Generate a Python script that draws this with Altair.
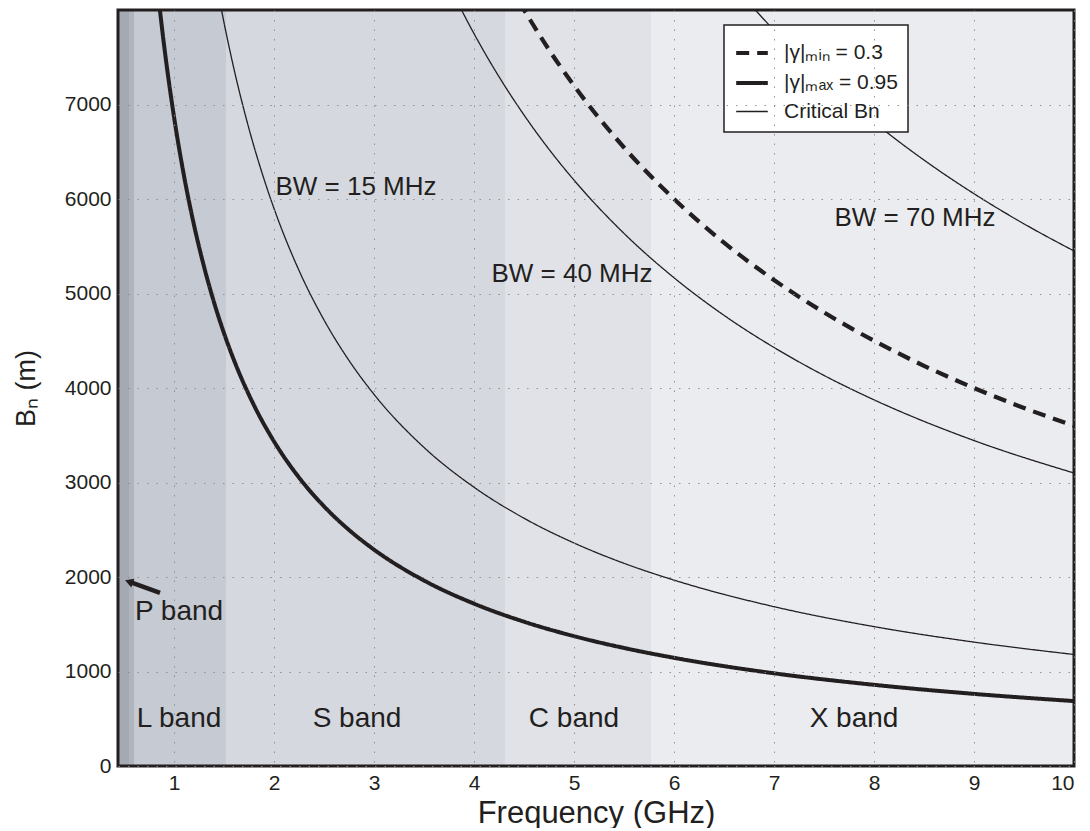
import altair as alt
import pandas as pd

# ---- data ----
band_names = ["P", "P2", "L", "S", "C", "X"]
band_start = [0.44, 0.55, 0.6, 1.52, 4.31, 5.77]
band_end = [0.55, 0.6, 1.52, 4.31, 5.77, 10.0]
band_colors = ["#a4a9b2", "#b0b5bd", "#c6cad2", "#d5d8df", "#e0e2e7", "#ebecf0"]

lab_min = "|γ|ₘᵢₙ = 0.3"
lab_max = "|γ|ₘₐₓ = 0.95"
lab_crit = "Critical Bn"

f_max = [0.84, 0.9, 1.0, 1.1, 1.2, 1.3, 1.4, 1.5, 1.6, 1.8, 2.0, 2.25, 2.5, 2.75, 3.0, 3.5, 4.0, 4.5, 5, 5.5, 6, 7, 8, 9, 10]
b_max = [8179, 7633, 6870, 6245, 5725, 5285, 4907, 4580, 4294, 3817, 3435, 3053, 2748, 2498, 2290, 1963, 1718, 1527, 1374, 1249, 1145, 981, 859, 763, 687]

f_bw15 = [1.45, 1.5, 1.6, 1.75, 1.9, 2.0, 2.25, 2.5, 2.75, 3, 3.5, 4, 4.5, 5, 5.5, 6, 7, 8, 9, 10]
b_bw15 = [8138, 7867, 7375, 6743, 6211, 5900, 5244, 4720, 4291, 3933, 3371, 2950, 2622, 2360, 2145, 1967, 1686, 1475, 1311, 1180]

f_bw40 = [3.85, 4.0, 4.25, 4.5, 4.75, 5, 5.5, 6, 6.5, 7, 7.5, 8, 9, 10]
b_bw40 = [8052, 7750, 7294, 6889, 6526, 6200, 5636, 5167, 4769, 4429, 4133, 3875, 3444, 3100]

f_min = [4.45, 4.75, 5, 5.5, 6, 6.5, 7, 7.5, 8, 8.5, 9, 9.5, 10]
b_min = [8090, 7579, 7200, 6545, 6000, 5538, 5143, 4800, 4500, 4235, 4000, 3789, 3600]

f_bw70 = [6.8, 7, 7.5, 8, 8.5, 9, 9.5, 10]
b_bw70 = [8015, 7786, 7267, 6813, 6412, 6056, 5737, 5450]

bw_text = ["BW = 15 MHz", "BW = 40 MHz", "BW = 70 MHz"]
bw_x = [2.82, 4.98, 8.41]
bw_y = [6126, 5210, 5800]

band_text = ["P band", "L band", "S band", "C band", "X band"]
band_tx = [1.05, 1.05, 2.83, 5.0, 7.8]
band_ty = [1630, 495, 495, 495, 495]

arrow_x = [0.86, 0.55]
arrow_y = [1832, 1950]

# ---- tables ----
rows = []
for cid, ser, fs, bs in [
    ("max", lab_max, f_max, b_max),
    ("bw15", lab_crit, f_bw15, b_bw15),
    ("bw40", lab_crit, f_bw40, b_bw40),
    ("bw70", lab_crit, f_bw70, b_bw70),
    ("min", lab_min, f_min, b_min),
]:
    for f, b in zip(fs, bs):
        rows.append({"curve": cid, "series": ser, "f": f, "bn": b})
curves = pd.DataFrame(rows)

bands = pd.DataFrame({"band": band_names, "x0": band_start, "x1": band_end})
bw_ann = pd.DataFrame({"text": bw_text, "x": bw_x, "y": bw_y})
band_ann = pd.DataFrame({"text": band_text, "x": band_tx, "y": band_ty})
arrow = pd.DataFrame({"x": arrow_x, "y": arrow_y, "o": [0, 1]})

W, H = 956, 756
xs = alt.Scale(domain=[0.44, 10], nice=False, zero=False)
ys = alt.Scale(domain=[0, 8000], nice=False)

FONT = "Liberation Sans"
INK = "#231f20"
series_dom = [lab_min, lab_max, lab_crit]

band_layer = alt.Chart(bands).mark_rect(opacity=1).encode(
    x=alt.X("x0:Q", scale=xs, axis=alt.Axis(
        title="Frequency (GHz)", values=list(range(1, 11)), format="d",
        grid=True, ticks=False, domain=False, labelPadding=6, titlePadding=5,
        labelFontSize=21, titleFontSize=31, zindex=1)),
    x2="x1:Q",
    color=alt.Color("band:N", scale=alt.Scale(domain=band_names, range=band_colors), legend=None),
)

line_layer = alt.Chart(curves).mark_line(clip=True, color=INK, interpolate="monotone").encode(
    x=alt.X("f:Q", scale=xs),
    y=alt.Y("bn:Q", scale=ys, axis=alt.Axis(
        title="Bₙ (m)", values=list(range(0, 8000, 1000)), format="d", grid=True, ticks=False,
        domain=False, labelPadding=7, titlePadding=24, labelFontSize=21,
        titleFontSize=27, zindex=1)),
    detail="curve:N",
    strokeDash=alt.StrokeDash("series:N", scale=alt.Scale(
        domain=series_dom, range=[[13, 8], [1, 0], [1, 0]]),
        legend=alt.Legend(title=None)),
    strokeWidth=alt.StrokeWidth("series:N", scale=alt.Scale(
        type="ordinal", domain=series_dom, range=[4.2, 4.0, 1.3]),
        legend=alt.Legend(title=None)),
)

bw_layer = alt.Chart(bw_ann).mark_text(font=FONT, fontSize=26, color=INK).encode(
    x=alt.X("x:Q", scale=xs), y=alt.Y("y:Q", scale=ys), text="text:N")
band_text_layer = alt.Chart(band_ann).mark_text(font=FONT, fontSize=28, color=INK).encode(
    x=alt.X("x:Q", scale=xs), y=alt.Y("y:Q", scale=ys), text="text:N")

arrow_line = alt.Chart(arrow).mark_line(color=INK, strokeWidth=4.5).encode(
    x=alt.X("x:Q", scale=xs), y=alt.Y("y:Q", scale=ys), order="o:Q")
arrow_head = alt.Chart(arrow[arrow.o == 1]).mark_point(
    shape="triangle-up", filled=True, color=INK, size=90, angle=290, opacity=1).encode(
    x=alt.X("x:Q", scale=xs), y=alt.Y("y:Q", scale=ys))

# plot frame drawn on top
frame = alt.Chart(pd.DataFrame({"k": [0]})).mark_rect(
    filled=False, stroke=INK, strokeWidth=3, fill="transparent").encode(
    x=alt.value(0), x2=alt.value(W), y=alt.value(0), y2=alt.value(H))

chart = alt.layer(band_layer, line_layer, bw_layer, band_text_layer,
                  arrow_line, arrow_head, frame).properties(
    width=W, height=H, padding={"left": 4, "top": 0, "right": 0, "bottom": 0}
).configure_view(
    strokeWidth=0
).configure_axis(
    gridColor="#8a8a8a", gridDash=[1.5, 8], gridWidth=1, gridOpacity=0.9,
    labelFont=FONT, titleFont=FONT, labelColor=INK, titleColor=INK,
    titleFontWeight="normal"
).configure_legend(
    orient="none", legendX=606, legendY=15, fillColor="white",
    strokeColor=INK, strokeWidth=1.5, padding=10, symbolType="stroke",
    symbolSize=1000, symbolStrokeColor=INK, labelFont=FONT, labelFontSize=21,
    labelColor=INK, rowPadding=2, labelOffset=14, labelLimit=300
)

chart.save("out.html", embed_options={"renderer": "svg", "actions": False})
